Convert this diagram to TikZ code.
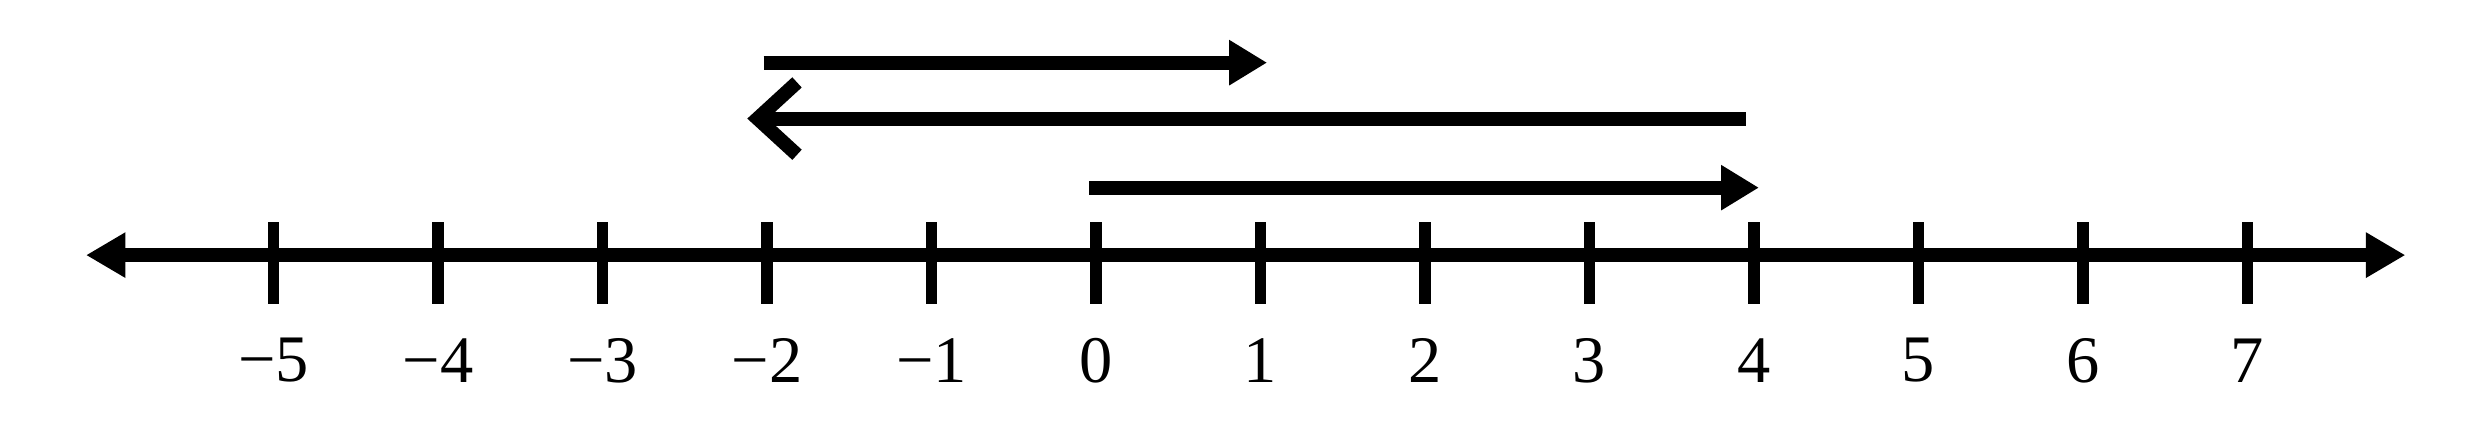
\documentclass[tikz,border=0pt]{standalone}
\usepackage{fontspec}
\setmainfont{Liberation Serif}
\usepackage{tikz}
\usetikzlibrary{arrows.meta,calc}

\begin{document}
\begin{tikzpicture}[line width=2.4pt,
                    solid tip/.style={-{Triangle[length=2.3mm,width=2.6mm]}},
                    open tip/.style={-{Straight Barb[length=2.4mm,width=4.4mm]}},
                    num/.style={font=\fontsize{11.5}{13}\selectfont,inner sep=0pt}]

\useasboundingbox (-6.663,-1.127) rectangle (8.438,1.551);

\coordinate (lend) at (-6.14,0);
\coordinate (rend) at (7.96,0);
\draw[{Triangle[length=2.4mm,width=2.6mm]}-{Triangle[length=2.4mm,width=2.6mm]}] (lend) -- (rend);

\foreach \x/\lbl in {-5/−5,-4/−4,-3/−3,-2/−2,-1/−1,0/0,1/1,2/2,3/3,4/4,5/5,6/6,7/7}{
  \coordinate (t\x) at (\x,0);
  \draw[line width=2pt] ($(t\x)+(0,0.2)$) -- ($(t\x)+(0,-0.3)$);
  \node[num] (n\x) at ($(t\x)+(0,-0.64)$) {\lbl};
}

\coordinate (a1) at (-2.02,1.17);
\coordinate (b1) at (1.04,1.17);
\coordinate (a2) at (3.95,0.83);
\coordinate (b2) at (-2.12,0.83);
\coordinate (a3) at (-0.04,0.41);
\coordinate (b3) at (4.03,0.41);

\draw[solid tip] (a1) -- (b1);
\draw[open tip] (a2) -- (b2);
\draw[solid tip] (a3) -- (b3);

\end{tikzpicture}
\end{document}
